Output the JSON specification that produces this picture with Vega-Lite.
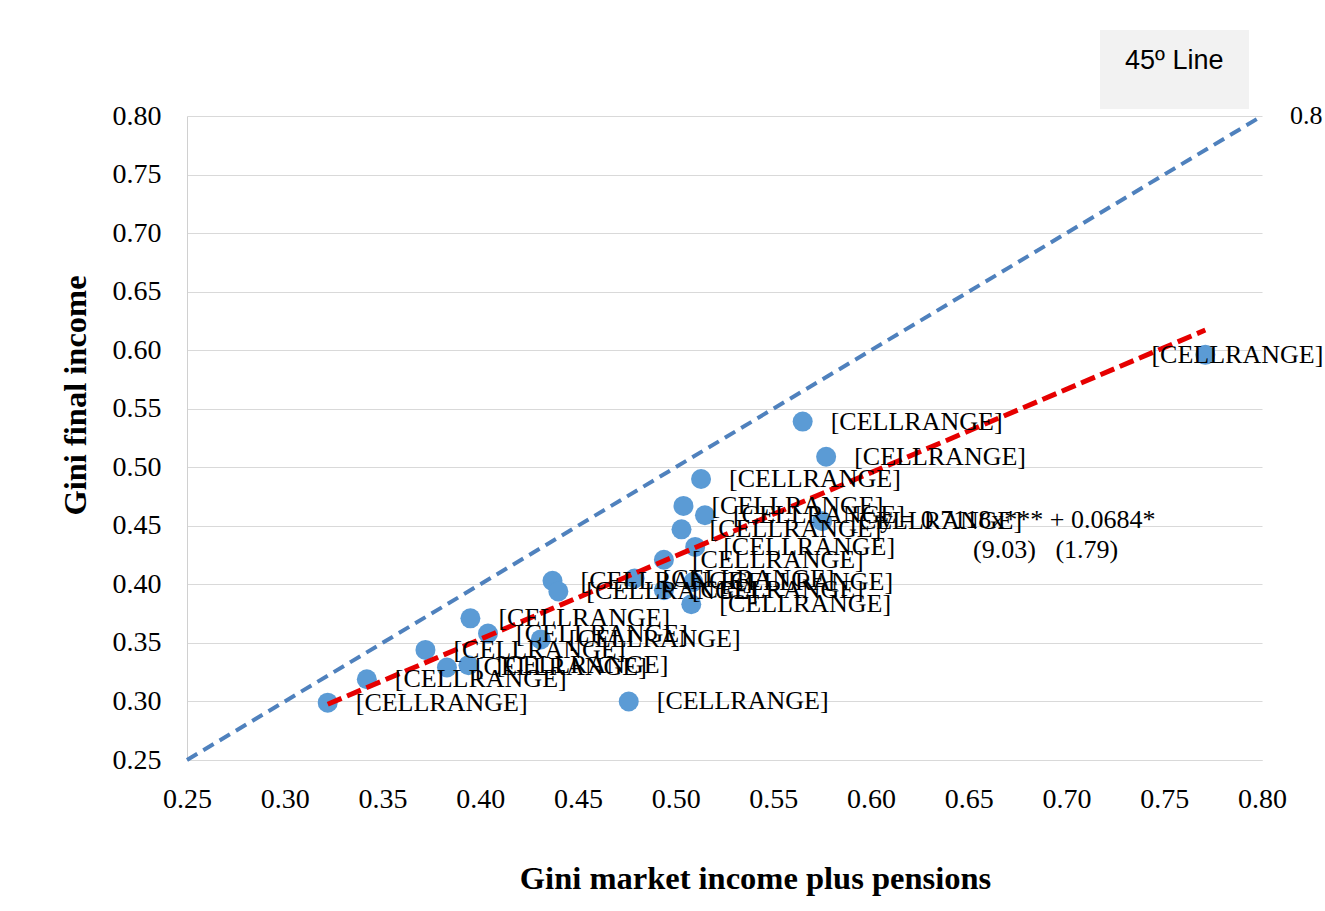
{
  "$schema": "https://vega.github.io/schema/vega-lite/v6.json",
  "width": 1075,
  "height": 644,
  "autosize": {"type": "none"},
  "padding": {"left": 187, "top": 116, "right": 63, "bottom": 151},
  "background": "white",
  "config": {
    "view": {"stroke": null},
    "axis": {
      "labelColor": "#000000",
      "titleColor": "#000000",
      "labelFont": "Liberation Serif",
      "labelFontSize": 28,
      "titleFont": "Liberation Serif"
    },
    "style": {
      "guide-label": {"font": "Liberation Serif", "fontSize": 28}
    }
  },
  "datasets": {
    "countries": [
      {"x": 0.322, "y": 0.299, "label": "[CELLRANGE]"},
      {"x": 0.342, "y": 0.319, "label": "[CELLRANGE]"},
      {"x": 0.372, "y": 0.344, "label": "[CELLRANGE]"},
      {"x": 0.383, "y": 0.329, "label": "[CELLRANGE]"},
      {"x": 0.394, "y": 0.331, "label": "[CELLRANGE]"},
      {"x": 0.395, "y": 0.371, "label": "[CELLRANGE]"},
      {"x": 0.404, "y": 0.358, "label": "[CELLRANGE]"},
      {"x": 0.431, "y": 0.353, "label": "[CELLRANGE]"},
      {"x": 0.437, "y": 0.403, "label": "[CELLRANGE]"},
      {"x": 0.440, "y": 0.394, "label": "[CELLRANGE]"},
      {"x": 0.476, "y": 0.300, "label": "[CELLRANGE]"},
      {"x": 0.479, "y": 0.405, "label": "[CELLRANGE]"},
      {"x": 0.494, "y": 0.395, "label": "[CELLRANGE]"},
      {"x": 0.494, "y": 0.421, "label": "[CELLRANGE]"},
      {"x": 0.504, "y": 0.467, "label": "[CELLRANGE]"},
      {"x": 0.503, "y": 0.447, "label": "[CELLRANGE]"},
      {"x": 0.510, "y": 0.432, "label": "[CELLRANGE]"},
      {"x": 0.509, "y": 0.402, "label": "[CELLRANGE]"},
      {"x": 0.508, "y": 0.383, "label": "[CELLRANGE]"},
      {"x": 0.513, "y": 0.490, "label": "[CELLRANGE]"},
      {"x": 0.515, "y": 0.459, "label": "[CELLRANGE]"},
      {"x": 0.565, "y": 0.539, "label": "[CELLRANGE]"},
      {"x": 0.577, "y": 0.509, "label": "[CELLRANGE]"},
      {"x": 0.575, "y": 0.454, "label": "[CELLRANGE]"},
      {"x": 0.771, "y": 0.596, "label": "[CELLRANGE]"}
    ],
    "diag": [
      {"x": 0.25, "y": 0.25, "series": "45º Line", "label": ""},
      {"x": 0.80, "y": 0.80, "series": "45º Line", "label": "0.8"}
    ],
    "trend": [
      {"x": 0.322, "y": 0.2976},
      {"x": 0.771, "y": 0.6172}
    ],
    "notes": [
      {"x": 0.6046, "y": 0.455, "text": "y = 0.7118x*** + 0.0684*"},
      {"x": 0.6522, "y": 0.4293, "text": "(9.03)\u00a0\u00a0\u00a0(1.79)"}
    ]
  },
  "encoding": {
    "x": {
      "field": "x",
      "type": "quantitative",
      "scale": {"domain": [0.25, 0.8], "nice": false, "zero": false},
      "axis": {
        "values": [0.25, 0.3, 0.35, 0.4, 0.45, 0.5, 0.55, 0.6, 0.65, 0.7, 0.75, 0.8],
        "format": ".2f",
        "grid": false,
        "ticks": false,
        "tickSize": 0,
        "domain": true,
        "domainColor": "#d9d9d9",
        "domainWidth": 1,
        "labelFont": "Liberation Serif",
        "labelFontSize": 28,
        "labelBaseline": "alphabetic",
        "labelPadding": 47,
        "labelFlush": false,
        "labelOverlap": false,
        "title": "Gini market income plus pensions",
        "titleFont": "Liberation Serif",
        "titleFontSize": 32.5,
        "titleFontWeight": "bold",
        "titleBaseline": "alphabetic",
        "titleX": 568,
        "titleY": 128
      }
    },
    "y": {
      "field": "y",
      "type": "quantitative",
      "scale": {"domain": [0.25, 0.8], "nice": false, "zero": false},
      "axis": {
        "values": [0.25, 0.3, 0.35, 0.4, 0.45, 0.5, 0.55, 0.6, 0.65, 0.7, 0.75, 0.8],
        "format": ".2f",
        "grid": true,
        "gridColor": "#d9d9d9",
        "gridWidth": 1,
        "ticks": false,
        "tickSize": 0,
        "domain": true,
        "domainColor": "#d0d0d0",
        "domainWidth": 1,
        "labelFont": "Liberation Serif",
        "labelFontSize": 28,
        "labelPadding": 26,
        "labelFlush": false,
        "labelOverlap": false,
        "title": "Gini final income",
        "titleFont": "Liberation Serif",
        "titleFontSize": 32.5,
        "titleFontWeight": "bold",
        "titleBaseline": "alphabetic",
        "titleX": -102,
        "titleY": 279
      }
    }
  },
  "layer": [
    {
      "data": {"name": "diag"},
      "mark": {"type": "line", "strokeDash": [12, 7], "strokeWidth": 4, "strokeCap": "butt"},
      "encoding": {
        "color": {
          "field": "series",
          "type": "nominal",
          "scale": {"range": ["#4f81bd"]},
          "legend": {
            "orient": "none",
            "legendX": 913,
            "legendY": -86,
            "title": "\u00a0",
            "titleOrient": "bottom",
            "titleFontSize": 8,
            "titlePadding": 2,
            "fillColor": "#f2f2f2",
            "padding": 25,
            "symbolType": "stroke",
            "symbolSize": 0,
            "symbolStrokeWidth": 0,
            "symbolOpacity": 0,
            "labelOffset": -27,
            "labelFont": "Liberation Sans",
            "labelFontSize": 27,
            "labelColor": "#000000",
            "labelBaseline": "alphabetic"
          }
        }
      }
    },
    {
      "data": {"name": "countries"},
      "mark": {"type": "circle", "size": 400, "color": "#5b9bd5", "opacity": 1}
    },
    {
      "data": {"name": "trend"},
      "mark": {"type": "line", "color": "#e60000", "strokeDash": [15, 6], "strokeWidth": 5, "strokeCap": "butt"},
      "encoding": {}
    },
    {
      "data": {"name": "countries"},
      "transform": [{"filter": "datum.x < 0.7"}],
      "mark": {"type": "text", "align": "left", "baseline": "middle", "dx": 28, "font": "Liberation Serif", "fontSize": 26, "color": "#000000"},
      "encoding": {"text": {"field": "label"}}
    },
    {
      "data": {"name": "countries"},
      "transform": [{"filter": "datum.x >= 0.7"}],
      "mark": {"type": "text", "align": "right", "baseline": "middle", "dx": 118, "font": "Liberation Serif", "fontSize": 26, "color": "#000000"},
      "encoding": {"text": {"field": "label"}}
    },
    {
      "data": {"name": "diag"},
      "transform": [{"filter": "datum.label != ''"}],
      "mark": {"type": "text", "align": "left", "baseline": "middle", "dx": 28, "font": "Liberation Serif", "fontSize": 26, "color": "#000000"},
      "encoding": {"text": {"field": "label"}}
    },
    {
      "data": {"name": "notes"},
      "mark": {"type": "text", "align": "left", "baseline": "middle", "font": "Liberation Serif", "fontSize": 26, "color": "#000000"},
      "encoding": {"text": {"field": "text"}}
    }
  ]
}
